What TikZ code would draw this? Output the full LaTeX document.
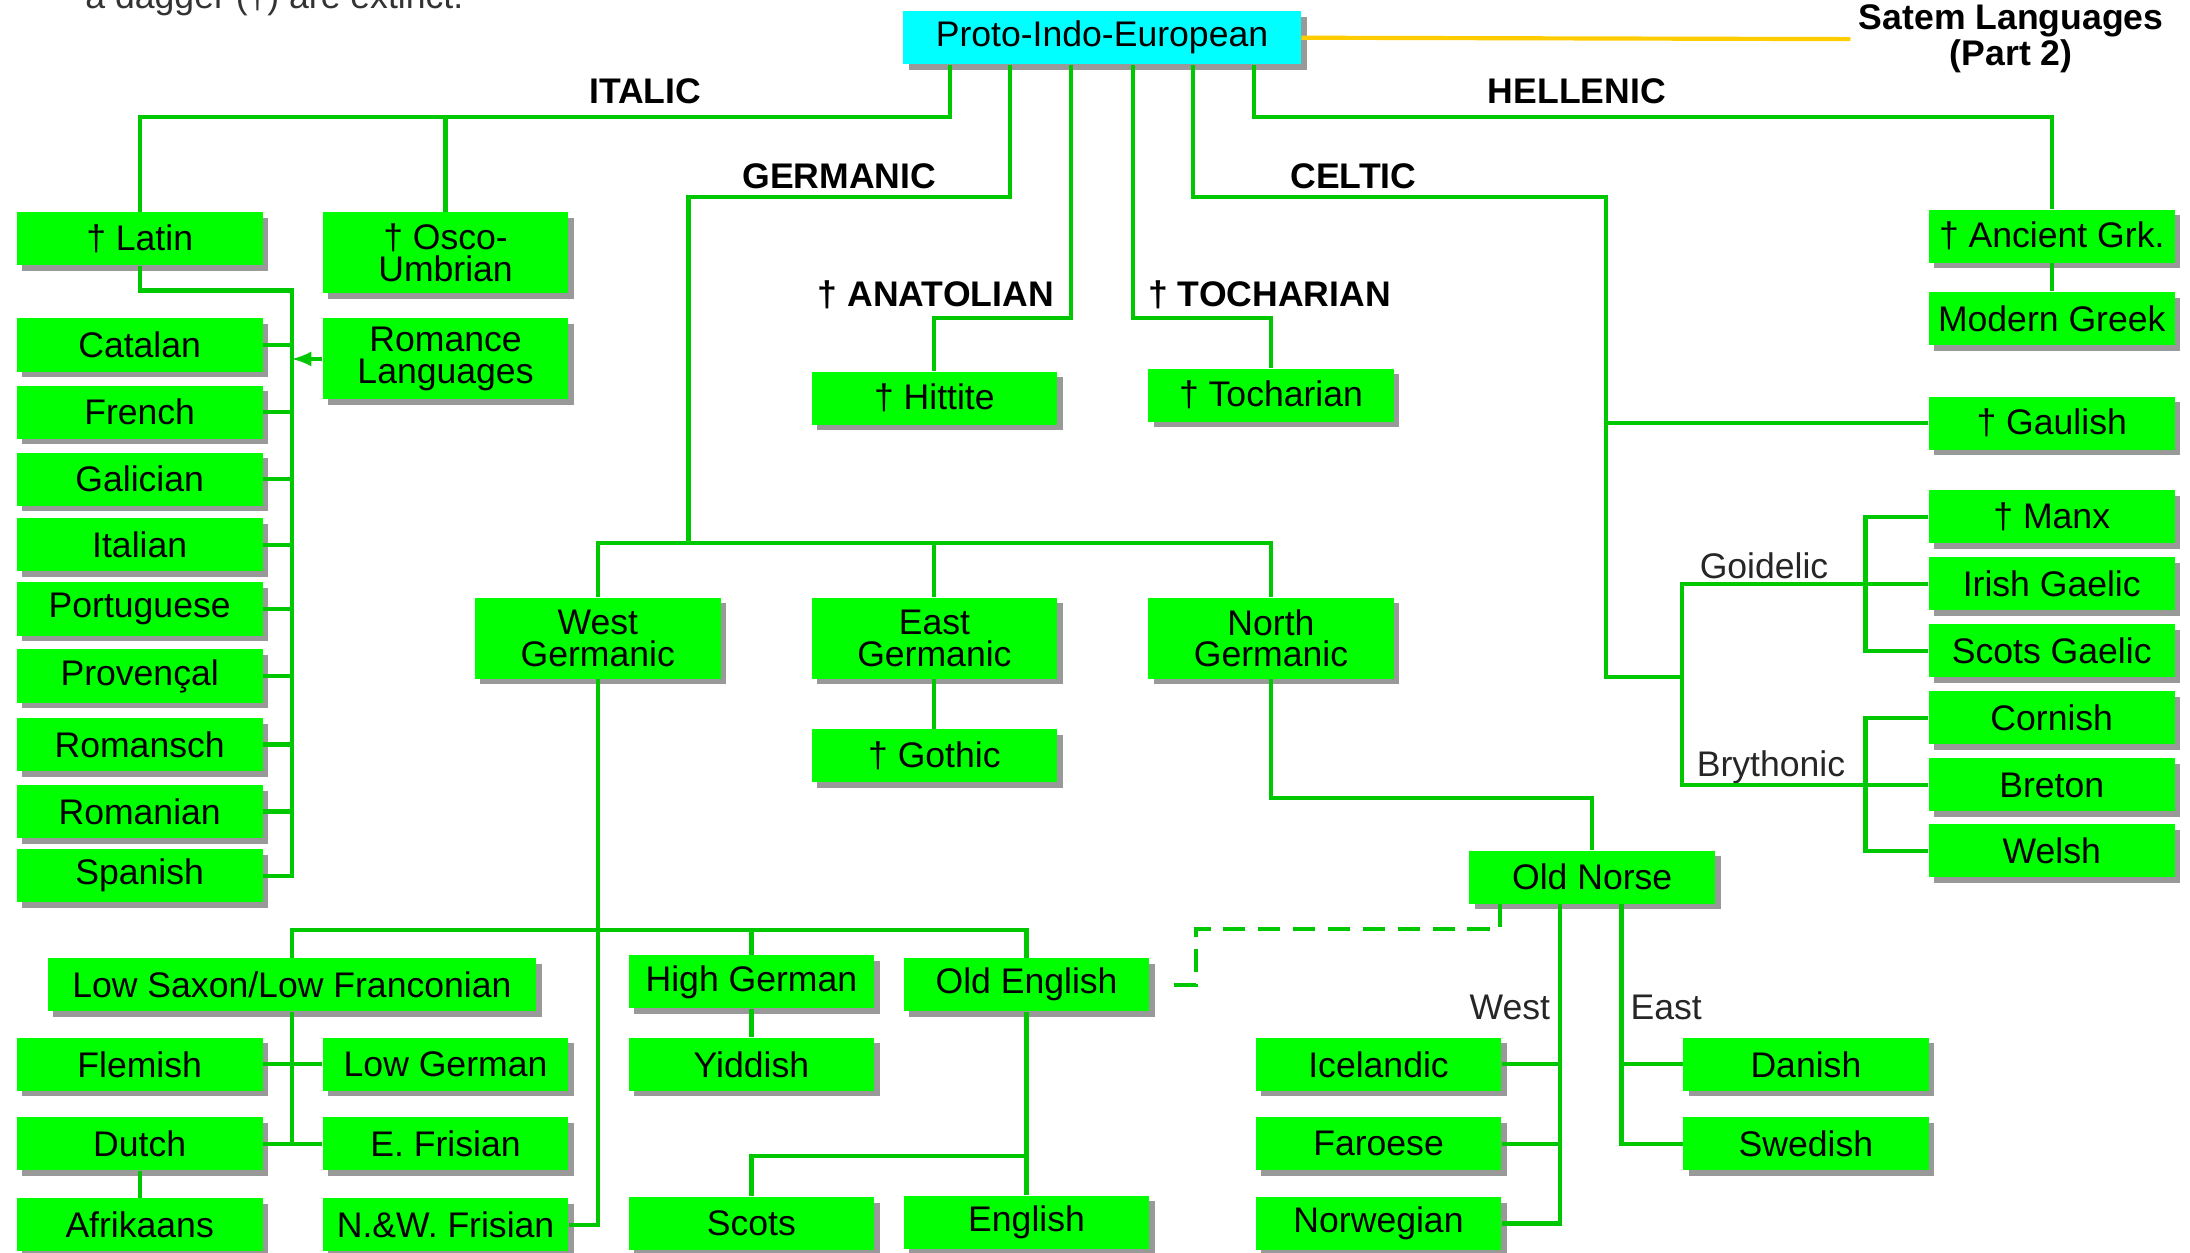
\documentclass[tikz,border=0pt]{standalone}
\usepackage{fontspec}
\setmainfont{Liberation Sans}
\usepackage{xcolor}
\usepackage{tikz}
\usetikzlibrary{calc}
\usetikzlibrary{arrows}
\usetikzlibrary{shadows}
\usetikzlibrary{positioning}

\definecolor{boxgreen}{RGB}{0,255,0}
\definecolor{linegreen}{RGB}{0,200,0}
\definecolor{piecyan}{RGB}{0,255,255}
\definecolor{satemorange}{RGB}{255,204,0}
\newcommand{\boxfont}{\fontsize{14.5}{13}\selectfont}

\tikzset{
  lang/.style={rectangle, fill=boxgreen, minimum width=3.52cm, minimum height=0.76cm,
    inner sep=1pt, align=center, font=\boxfont,
    drop shadow={shadow xshift=0.08cm, shadow yshift=-0.08cm, fill=black!40, opacity=1}},
  langtwo/.style={lang, minimum height=1.16cm},
  link/.style={draw=linegreen, line width=1.7pt},
  branchlbl/.style={font=\boxfont\bfseries},
  sublbl/.style={font=\boxfont, text=black!85},
}

\begin{document}
\begin{tikzpicture}[x=0.02cm, y=-0.02cm]
\clip (0,0) rectangle (1568,897);

% root and headings
\node [anchor=base west, font=\boxfont, text=black!80] (note) at (55,6) {a dagger (†) are extinct.};
\node [lang, fill=piecyan, minimum width=5.7cm] (pie) at (789,27) {Proto-Indo-European};
\node [branchlbl, align=center] (satem) at (1440,28) {Satem Languages\\(Part 2)};
\node [branchlbl] (italic) at (462,65) {ITALIC};
\node [branchlbl] (hellenic) at (1129,65) {HELLENIC};
\node [branchlbl] (germanic) at (601,126) {GERMANIC};
\node [branchlbl] (celtic) at (969,126) {CELTIC};
\node [branchlbl] (anatolian) at (670,211) {† ANATOLIAN};
\node [branchlbl] (tochlbl) at (909,211) {† TOCHARIAN};
\node [sublbl] (goidelic) at (1263,405) {Goidelic};
\node [sublbl] (brythonic) at (1268,549) {Brythonic};
\node [sublbl] (westlbl) at (1081,721) {West};
\node [sublbl] (eastlbl) at (1193,721) {East};

\coordinate (topbar) at (0,84);
\coordinate (germ) at (493,141);
\coordinate (germfork) at (493,389);
\coordinate (celt) at (1150,141);
\coordinate (celtfork) at (1204,485);
\coordinate (romfork) at (209,208);

% italic
\node [lang] (latin) at (100,171) {† Latin};
\node [langtwo] (osco) at (319,181) {† Osco-\\Umbrian};
\node [langtwo] (romance) at (319,257) {Romance\\Languages};
\foreach \n/\t/\y in {catalan/Catalan/247, french/French/295, galician/Galician/343,
    italian/Italian/390, portuguese/Portuguese/436, provencal/Provençal/484,
    romansch/Romansch/533, romanian/Romanian/581, spanish/Spanish/627}
  \node [lang] (\n) at (100,\y) {\t};

% anatolian, tocharian, hellenic
\node [lang] (hittite) at (669,285) {† Hittite};
\node [lang] (tocharian) at (910,283) {† Tocharian};
\node [lang] (ancgrk) at (1469,169) {† Ancient Grk.};
\node [lang] (modgreek) at (1469,228) {Modern Greek};

% celtic
\node [lang] (gaulish) at (1469,303) {† Gaulish};
\foreach \n/\t/\y in {manx/† Manx/370, irish/Irish Gaelic/418, scotsg/Scots Gaelic/466,
    cornish/Cornish/514, breton/Breton/562, welsh/Welsh/609}
  \node [lang] (\n) at (1469,\y) {\t};

% germanic
\node [langtwo] (westg) at (428,457) {West\\Germanic};
\node [langtwo] (eastg) at (669,457) {East\\Germanic};
\node [langtwo] (northg) at (910,457) {North\\Germanic};
\node [lang] (gothic) at (669,541) {† Gothic};
\node [lang] (oldnorse) at (1140,628) {Old Norse};
\node [lang] (icelandic) at (987,762) {Icelandic};
\node [lang] (faroese) at (987,819) {Faroese};
\node [lang] (norwegian) at (987,876) {Norwegian};
\node [lang] (danish) at (1293,762) {Danish};
\node [lang] (swedish) at (1293,819) {Swedish};
\node [lang, minimum width=7cm] (lowsaxon) at (209,705) {Low Saxon/Low Franconian};
\node [lang] (highgerman) at (538,703) {High German};
\node [lang] (oldenglish) at (735,705) {Old English};
\node [lang] (yiddish) at (538,762) {Yiddish};
\node [lang] (flemish) at (100,762) {Flemish};
\node [lang] (lowgerman) at (319,762) {Low German};
\node [lang] (dutch) at (100,819) {Dutch};
\node [lang] (efrisian) at (319,819) {E. Frisian};
\node [lang] (afrikaans) at (100,877) {Afrikaans};
\node [lang] (nwfrisian) at (319,877) {N.\&W. Frisian};
\node [lang] (scots) at (538,876) {Scots};
\node [lang] (english) at (735,875) {English};

% connectors
\draw [draw=satemorange, line width=1.7pt] (pie.east) -- (satem.west);
\draw [link] ($(pie.south)+(-109,0)$) |- (latin.north |- topbar) -- (latin.north);
\draw [link] (osco.north) -- (osco.north |- topbar);
\draw [link] (latin.south) |- (romfork) |- (spanish.east);
\foreach \n in {catalan,french,galician,italian,portuguese,provencal,romansch,romanian}
  \draw [link] (\n.east) -- (\n.east -| romfork);
\draw [link, -latex] (romance.west) -- (romance.west -| romfork);

\draw [link] ($(pie.south)+(-66,0)$) |- (germ) -- (germfork);
\draw [link] (westg.north) |- (germfork) -| (northg.north);
\draw [link] (eastg.north) -- (eastg.north |- germfork);
\draw [link] ($(pie.south)+(-22,0)$) |- ($(hittite.north)+(0,-38)$) -- (hittite.north);
\draw [link] ($(pie.south)+(22,0)$) |- ($(tocharian.north)+(0,-36)$) -- (tocharian.north);
\draw [link] ($(pie.south)+(109,0)$) |- (ancgrk.north |- topbar) -- (ancgrk.north);
\draw [link] (ancgrk) -- (modgreek);

\draw [link] ($(pie.south)+(65,0)$) |- (celt) |- (celtfork);
\draw [link] (gaulish.west) -- (gaulish.west -| celt);
\draw [link] (irish.west) -| (celtfork);
\draw [link] (breton.west) -| (celtfork);
\draw [link] (manx.west) -- ++(-45,0) |- (scotsg.west);
\draw [link] (cornish.west) -- ++(-45,0) |- (welsh.west);

\draw [link] (eastg) -- (gothic);
\draw [link] (northg.south) -- ++(0,85) -| (oldnorse.north);
\draw [link] ($(oldnorse.south)+(-23,0)$) |- (norwegian.east);
\draw [link] (icelandic.east) -- ++(42,0);
\draw [link] (faroese.east) -- ++(42,0);
\draw [link] ($(oldnorse.south)+(21,0)$) |- (swedish.west);
\draw [link] (danish.west) -- ++(-44,0);
\draw [link, dash pattern=on 0.32cm off 0.18cm, shorten >=0.24cm]
  ($(oldnorse.south)+(-66,0)$) |- ($(oldenglish.east)+(33,-40)$) |- (oldenglish.east);

\draw [link] (westg.south) |- (nwfrisian.east);
\draw [link] (lowsaxon.north) -- ++(0,-20) -| (oldenglish.north);
\draw [link] (highgerman.north) -- ++(0,-18);
\draw [link] (highgerman) -- (yiddish);
\draw [link] (lowsaxon.south) |- (dutch.east);
\draw [link] (flemish.east) -- (lowgerman.west);
\draw [link] (dutch.east) -- (efrisian.west);
\draw [link] (dutch) -- (afrikaans);
\draw [link] (oldenglish) -- (english);
\draw [link] (scots.north) |- ($(english.north)+(0,-28)$);
\end{tikzpicture}
\end{document}
